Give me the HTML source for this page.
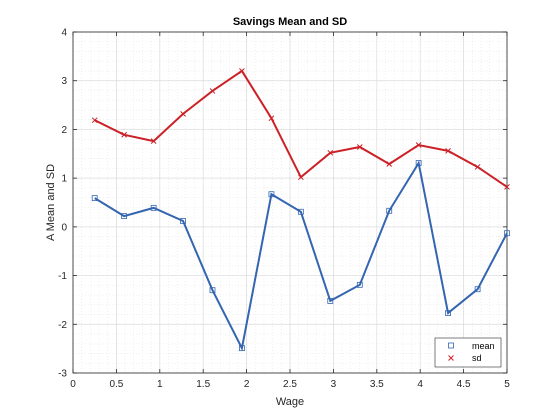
<!DOCTYPE html>
<html><head><meta charset="utf-8"><style>
body{margin:0;background:#fff;}
svg{display:block;font-family:"Liberation Sans",Arial,sans-serif;}
</style></head><body>
<svg id="chart" width="560" height="420"></svg>
<script>
const xValues=[0.25,0.589,0.929,1.268,1.607,1.946,2.286,2.625,2.964,3.304,3.643,3.982,4.321,4.661,5.0];
const meanValues=[0.59,0.22,0.39,0.12,-1.30,-2.49,0.67,0.31,-1.52,-1.19,0.33,1.31,-1.77,-1.28,-0.13];
const sdValues=[2.19,1.89,1.76,2.32,2.79,3.20,2.23,1.02,1.52,1.64,1.29,1.68,1.56,1.23,0.82];
const xTicks=[0,0.5,1,1.5,2,2.5,3,3.5,4,4.5,5];
const yTicks=[-3,-2,-1,0,1,2,3,4];
const NS="http://www.w3.org/2000/svg";
const svg=document.getElementById('chart');
const L=73,R=507,T=32,B=373;
const sx=v=>L+(v-0)/5*(R-L);
const sy=v=>B-(v+3)/7*(B-T);
function el(t,a,p){const e=document.createElementNS(NS,t);for(const k in a)e.setAttribute(k,a[k]);(p||svg).appendChild(e);return e;}
const bg=el('rect',{x:L,y:T,width:R-L,height:B-T,fill:'#fff'});


const grid=el('g',{});


for(let v=0;v<=5.0001;v+=0.1){el('line',{x1:sx(v),x2:sx(v),y1:T,y2:B,stroke:'#e6e6e6','stroke-width':0.6,'stroke-dasharray':'1,2'},grid);}
for(let v=-3;v<=4.0001;v+=0.2){el('line',{x1:L,x2:R,y1:sy(v),y2:sy(v),stroke:'#e6e6e6','stroke-width':0.6,'stroke-dasharray':'1,2'},grid);}
xTicks.forEach(v=>el('line',{x1:sx(v),x2:sx(v),y1:T,y2:B,stroke:'#dcdcdc','stroke-width':0.7},grid));
yTicks.forEach(v=>el('line',{x1:L,x2:R,y1:sy(v),y2:sy(v),stroke:'#dcdcdc','stroke-width':0.7},grid));
const ax=el('g',{});


el('rect',{x:L,y:T,width:R-L,height:B-T,fill:'none',stroke:'#262626','stroke-width':0.8},ax);
xTicks.forEach(v=>{el('line',{x1:sx(v),x2:sx(v),y1:B,y2:B-4,stroke:'#262626','stroke-width':0.8},ax);el('line',{x1:sx(v),x2:sx(v),y1:T,y2:T+4,stroke:'#262626','stroke-width':0.8},ax);
const t=el('text',{x:sx(v),y:B+14,'text-anchor':'middle','font-size':10,fill:'#262626'},ax);t.textContent=String(v);

});
yTicks.forEach(v=>{el('line',{x1:L,x2:L+4,y1:sy(v),y2:sy(v),stroke:'#262626','stroke-width':0.8},ax);el('line',{x1:R,x2:R-4,y1:sy(v),y2:sy(v),stroke:'#262626','stroke-width':0.8},ax);
const t=el('text',{x:L-6,y:sy(v)+3.5,'text-anchor':'end','font-size':10,fill:'#262626'},ax);t.textContent=String(v);

});
const title=el('text',{x:(L+R)/2,y:25,'text-anchor':'middle','font-size':11,'font-weight':'bold',fill:'#000'});title.textContent='Savings Mean and SD';


const xl=el('text',{x:(L+R)/2,y:405,'text-anchor':'middle','font-size':11,fill:'#262626'});xl.textContent='Wage';


const yl=el('text',{x:0,y:0,'text-anchor':'middle','font-size':11,fill:'#262626',transform:`translate(54,${(T+B)/2}) rotate(-90)`});yl.textContent='A Mean and SD';


function series(vals,color,name,marker){
const g=el('g',{});


el('polyline',{points:vals.map((v,i)=>sx(xValues[i])+','+sy(v)).join(' '),fill:'none',stroke:color,'stroke-width':2},g);
vals.forEach((v,i)=>{const x=sx(xValues[i]),y=sy(v);
if(marker==='s')el('rect',{x:x-2.5,y:y-2.5,width:5,height:5,fill:'none',stroke:color,'stroke-width':0.8},g);
else{el('path',{d:`M${x-2.5},${y-2.5}L${x+2.5},${y+2.5}M${x-2.5},${y+2.5}L${x+2.5},${y-2.5}`,stroke:color,'stroke-width':1},g);}});
}
series(meanValues,'#3465b0','mean','s');
series(sdValues,'#cc2127','sd','x');
const lg=el('g',{});


el('rect',{x:435,y:338,width:66,height:29,fill:'#fff',stroke:'#262626','stroke-width':0.6},lg);
el('rect',{x:448.5,y:343,width:5,height:5,fill:'none',stroke:'#3465b0','stroke-width':0.8},lg);
el('path',{d:'M448.5,355.5L453.5,360.5M448.5,360.5L453.5,355.5',stroke:'#cc2127','stroke-width':1},lg);
const t1=el('text',{x:472,y:349,'font-size':9,fill:'#000'},lg);t1.textContent='mean';


const t2=el('text',{x:472,y:361,'font-size':9,fill:'#000'},lg);t2.textContent='sd';


</script>
</body></html>
